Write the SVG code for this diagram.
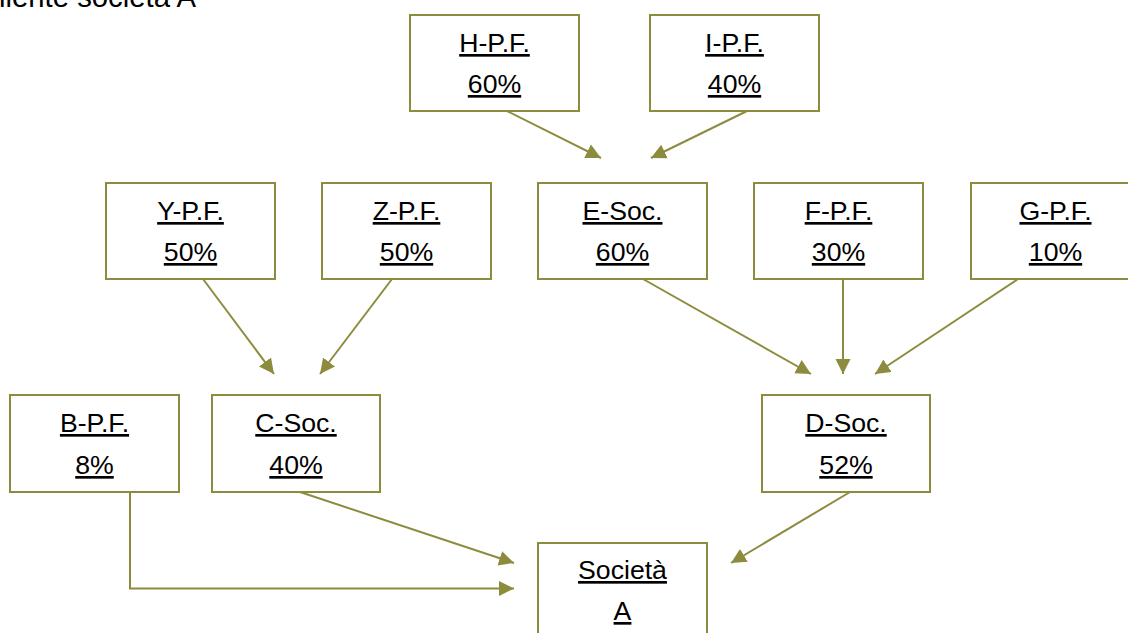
<svg xmlns="http://www.w3.org/2000/svg" width="1128" height="633" viewBox="0 0 1128 633">
<style>
.box{fill:#ffffff;stroke:#8D8C3E;stroke-width:2}
.lbl{font-family:"Liberation Sans",Arial,sans-serif;font-size:26.67px;fill:#000000;text-anchor:middle;text-decoration:underline}
.title{font-family:"Liberation Sans",Arial,sans-serif;font-size:29.3px;fill:#000000}
.con{fill:none;stroke:#8D8C3E;stroke-width:2}
</style>
<defs>
<marker id="arr" markerUnits="userSpaceOnUse" markerWidth="16" markerHeight="16" viewBox="0 0 16 16" refX="15" refY="8" orient="auto">
<path d="M0,0.5 L15,8 L0,15.5 Z" fill="#8D8C3E"/>
</marker>
</defs>
<rect width="1128" height="633" fill="#ffffff"/>
<text class="title" x="-1" y="7">liente società A</text>
<g id="connectors">
<line class="con" x1="507" y1="111" x2="601" y2="158" marker-end="url(#arr)"/>
<line class="con" x1="747" y1="111" x2="651" y2="158" marker-end="url(#arr)"/>
<line class="con" x1="203" y1="279" x2="274" y2="374" marker-end="url(#arr)"/>
<line class="con" x1="392" y1="279" x2="320" y2="374" marker-end="url(#arr)"/>
<line class="con" x1="643" y1="279" x2="811" y2="374" marker-end="url(#arr)"/>
<line class="con" x1="843" y1="279" x2="843" y2="374" marker-end="url(#arr)"/>
<line class="con" x1="1018" y1="279" x2="875" y2="374" marker-end="url(#arr)"/>
<line class="con" x1="300" y1="492" x2="514" y2="563" marker-end="url(#arr)"/>
<polyline class="con" points="130,492 130,588.5 514,588.5" marker-end="url(#arr)"/>
<line class="con" x1="850" y1="492" x2="731" y2="563" marker-end="url(#arr)"/>
</g>
<g id="H"><rect class="box" x="410" y="15" width="169" height="96"/><text class="lbl" x="494.5" y="52">H-P.F.</text><text class="lbl" x="494.5" y="93">60%</text></g>
<g id="I"><rect class="box" x="650" y="15" width="169" height="96"/><text class="lbl" x="734.5" y="52">I-P.F.</text><text class="lbl" x="734.5" y="93">40%</text></g>
<g id="Y"><rect class="box" x="106" y="183" width="169" height="96"/><text class="lbl" x="190.5" y="220">Y-P.F.</text><text class="lbl" x="190.5" y="261">50%</text></g>
<g id="Z"><rect class="box" x="322" y="183" width="169" height="96"/><text class="lbl" x="406.5" y="220">Z-P.F.</text><text class="lbl" x="406.5" y="261">50%</text></g>
<g id="E"><rect class="box" x="538" y="183" width="169" height="96"/><text class="lbl" x="622.5" y="220">E-Soc.</text><text class="lbl" x="622.5" y="261">60%</text></g>
<g id="F"><rect class="box" x="754" y="183" width="169" height="96"/><text class="lbl" x="838.5" y="220">F-P.F.</text><text class="lbl" x="838.5" y="261">30%</text></g>
<g id="G"><rect class="box" x="971" y="183" width="169" height="96"/><text class="lbl" x="1055.5" y="220">G-P.F.</text><text class="lbl" x="1055.5" y="261">10%</text></g>
<g id="B"><rect class="box" x="10" y="395" width="169" height="97"/><text class="lbl" x="94.5" y="432">B-P.F.</text><text class="lbl" x="94.5" y="474">8%</text></g>
<g id="C"><rect class="box" x="212" y="395" width="168" height="97"/><text class="lbl" x="296" y="432">C-Soc.</text><text class="lbl" x="296" y="474">40%</text></g>
<g id="D"><rect class="box" x="762" y="395" width="168" height="97"/><text class="lbl" x="846" y="432">D-Soc.</text><text class="lbl" x="846" y="474">52%</text></g>
<g id="A"><rect class="box" x="538" y="543" width="169" height="97"/><text class="lbl" x="622.5" y="579">Società</text><text class="lbl" x="622.5" y="620">A</text></g>
</svg>
